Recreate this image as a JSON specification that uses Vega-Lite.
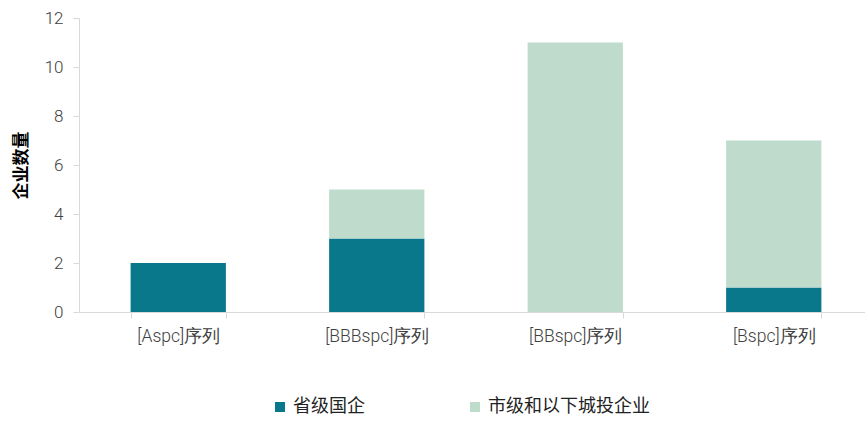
{
  "$schema": "https://vega.github.io/schema/vega-lite/v6.json",
  "autosize": {"type": "none"},
  "padding": {"left": 79, "top": 18, "right": 0, "bottom": 110},
  "width": 786,
  "height": 294,
  "background": "white",
  "data": {
    "values": [
      {"category": "[Aspc]序列", "series": "省级国企", "value": 2},
      {"category": "[Aspc]序列", "series": "市级和以下城投企业", "value": 0},
      {"category": "[BBBspc]序列", "series": "省级国企", "value": 3},
      {"category": "[BBBspc]序列", "series": "市级和以下城投企业", "value": 2},
      {"category": "[BBspc]序列", "series": "省级国企", "value": 0},
      {"category": "[BBspc]序列", "series": "市级和以下城投企业", "value": 11},
      {"category": "[Bspc]序列", "series": "省级国企", "value": 1},
      {"category": "[Bspc]序列", "series": "市级和以下城投企业", "value": 6}
    ]
  },
  "config": {
    "view": {"stroke": null},
    "font": "Roboto"
  },
  "mark": {"type": "bar"},
  "encoding": {
    "x": {
      "field": "category",
      "type": "nominal",
      "sort": null,
      "scale": {"range": [0, 794], "paddingInner": 0.52, "paddingOuter": 0.26},
      "axis": {
        "title": null,
        "labelAngle": 0,
        "labelFont": "Roboto",
        "labelFontWeight": 300,
        "labelFontSize": 17.5,
        "labelColor": "#404040",
        "labelPadding": 9,
        "domainColor": "#d9d9d9",
        "tickColor": "#d9d9d9",
        "tickSize": 6,
        "tickBand": "extent",
        "grid": false
      }
    },
    "y": {
      "field": "value",
      "type": "quantitative",
      "stack": "zero",
      "scale": {"domain": [0, 12], "nice": false},
      "axis": {
        "title": "企业数量",
        "titleFont": "Noto Sans CJK SC",
        "titleFontSize": 17,
        "titleFontWeight": "bold",
        "titleColor": "#000000",
        "titlePadding": 14,
        "values": [0, 2, 4, 6, 8, 10, 12],
        "labelFont": "Roboto",
        "labelFontWeight": 300,
        "labelFontSize": 17,
        "labelColor": "#404040",
        "labelPadding": 10,
        "domainColor": "#d9d9d9",
        "tickColor": "#d9d9d9",
        "tickSize": 6,
        "grid": false
      }
    },
    "color": {
      "field": "series",
      "type": "nominal",
      "scale": {"domain": ["省级国企", "市级和以下城投企业"], "range": ["#0a788b", "#bedbcb"]},
      "legend": {
        "title": null,
        "orient": "none",
        "direction": "horizontal",
        "legendX": 192,
        "legendY": 380,
        "symbolType": "square",
        "symbolSize": 100,
        "symbolStrokeWidth": 0,
        "labelFont": "Noto Sans CJK SC",
        "labelFontSize": 18,
        "labelColor": "#222222",
        "labelOffset": 4,
        "labelLimit": 300,
        "columnPadding": 101
      }
    },
    "order": {"field": "series", "sort": "descending"}
  }
}
